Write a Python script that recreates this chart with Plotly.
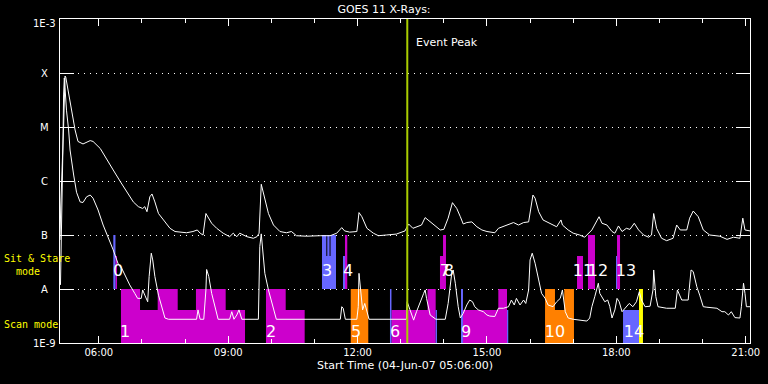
import math
import plotly.graph_objects as go

DAY = "2007-06-04 "

# ---------------- data ----------------
# GOES 11 long channel (upper curve)
long_time = [
    "05:06", "05:07", "05:11", "05:12", "05:13", "05:14", "05:18", "05:22", "05:27", "05:31",
    "05:38", "05:48", "05:52", "06:02", "06:11", "06:20", "06:30", "06:39", "06:48", "06:55",
    "07:01", "07:04", "07:07", "07:11", "07:14", "07:18", "07:23", "07:30", "07:39", "07:46",
    "08:02", "08:11", "08:17", "08:21", "08:25", "08:29", "08:32", "08:37", "08:44", "08:53",
    "09:02", "09:07", "09:12", "09:16", "09:26", "09:35", "09:40", "09:43", "09:46", "09:50",
    "09:56", "10:03", "10:12", "10:21", "10:28", "10:35", "10:49", "11:08", "11:22", "11:31",
    "11:38", "11:42", "11:49", "11:59", "12:02", "12:06", "12:13", "12:22", "12:29", "12:40",
    "12:54", "13:06", "13:11", "13:17", "13:24", "13:29", "13:34", "13:38", "13:45", "13:55",
    "14:00", "14:06", "14:12", "14:18", "14:23", "14:27", "14:32", "14:39", "14:46", "14:53",
    "15:00", "15:11", "15:16", "15:25", "15:37", "15:44", "15:51", "15:58", "16:04", "16:07",
    "16:12", "16:18", "16:28", "16:37", "16:43", "16:45", "16:53", "17:00", "17:09", "17:16",
    "17:26", "17:36", "17:40", "17:47", "17:54", "17:58", "18:03", "18:08", "18:14", "18:19",
    "18:25", "18:31", "18:38", "18:45", "18:49", "18:52", "18:56", "19:03", "19:10", "19:19",
    "19:24", "19:29", "19:38", "19:42", "19:47", "19:54", "20:01", "20:10", "20:24", "20:34",
    "20:43", "20:52", "20:56", "20:59", "21:06",
]
long_flux = [
    8.1e-8, 3.3e-7, 1.0e-5, 4.8e-5, 8.8e-5, 8.4e-5, 4.2e-5, 1.8e-5, 8.8e-6, 5.4e-6,
    4.85e-6, 5.6e-6, 5.4e-6, 4.0e-6, 2.45e-6, 1.6e-6, 9.7e-7, 6.3e-7, 4.1e-7, 3.35e-7,
    3.1e-7, 3.35e-7, 2.7e-7, 5.1e-7, 5.75e-7, 4.1e-7, 2.5e-7, 1.9e-7, 1.33e-7, 1.16e-7,
    1.1e-7, 1.16e-7, 1.24e-7, 1.08e-7, 1.0e-7, 2.5e-7, 2.18e-7, 1.65e-7, 1.33e-7, 1.08e-7,
    9.3e-8, 1.08e-7, 9.3e-8, 1.08e-7, 9.3e-8, 8.7e-8, 9.3e-8, 1.08e-7, 8.7e-7, 5.1e-7,
    2.5e-7, 1.53e-7, 1.16e-7, 1.1e-7, 1.16e-7, 9.7e-8, 9.5e-8, 9.7e-8, 9.7e-8, 1.08e-7,
    1.37e-7, 1.19e-7, 1.13e-7, 1.16e-7, 2.6e-7, 2.18e-7, 1.33e-7, 1.08e-7, 9.7e-8, 1.0e-7,
    1.04e-7, 1.19e-7, 1.6e-7, 1.33e-7, 1.42e-7, 1.53e-7, 2.1e-7, 1.9e-7, 1.53e-7, 1.24e-7,
    1.27e-7, 2.05e-7, 3.97e-7, 3.1e-7, 2.18e-7, 1.6e-7, 1.7e-7, 1.75e-7, 1.42e-7, 1.24e-7,
    1.16e-7, 1.1e-7, 1.33e-7, 1.47e-7, 1.7e-7, 1.53e-7, 1.7e-7, 1.75e-7, 5.5e-7, 4.8e-7,
    2.7e-7, 1.9e-7, 1.65e-7, 1.42e-7, 1.9e-7, 1.53e-7, 1.24e-7, 1.08e-7, 1.0e-7, 9.1e-8,
    1.24e-7, 2.18e-7, 1.65e-7, 1.53e-7, 1.16e-7, 1.08e-7, 1.47e-7, 1.16e-7, 1.33e-7, 1.27e-7,
    1.65e-7, 1.24e-7, 1.0e-7, 9.1e-8, 1.0e-7, 2.5e-7, 1.33e-7, 8.7e-8, 7.85e-8, 8.7e-8,
    1.53e-7, 1.24e-7, 1.24e-7, 2.05e-7, 2.78e-7, 2.18e-7, 1.24e-7, 1.0e-7, 9.5e-8, 8.3e-8,
    9.1e-8, 8.7e-8, 2.05e-7, 1.24e-7, 1.19e-7,
]

# GOES 11 short channel (lower curve)
short_time = [
    "05:06:40", "05:08", "05:09", "05:10", "05:11", "05:12", "05:13", "05:15", "05:18", "05:20",
    "05:25", "05:29", "05:34", "05:38", "05:43", "05:48", "05:52", "05:59", "06:06", "06:13",
    "06:20", "06:25", "06:27", "06:32", "06:36", "06:43", "06:50", "06:54", "06:59", "07:01",
    "07:04", "07:08", "07:10", "07:13", "07:15", "07:18", "07:23", "07:28", "07:32", "07:37",
    "08:16", "08:18", "08:21", "08:26", "08:29", "08:30", "08:33", "08:37", "08:42", "08:46",
    "09:02", "09:05", "09:08", "09:12", "09:15", "09:19", "09:42", "09:44", "09:46", "09:48",
    "09:51", "09:56", "10:03", "10:07", "11:36", "11:38", "11:40", "11:43", "11:59", "12:01",
    "12:02", "12:04", "12:07", "12:10", "12:14", "12:16", "13:08", "13:09", "13:13", "13:18",
    "13:22", "13:27", "13:32", "13:34", "13:36", "13:41", "13:49", "14:02", "14:06", "14:11",
    "14:13", "14:16", "14:20", "14:23", "14:27", "14:32", "14:36", "14:40", "14:43", "14:48",
    "14:55", "15:00", "15:04", "15:11", "15:16", "15:23", "15:30", "15:34", "15:38", "15:41",
    "15:46", "15:51", "15:54", "15:58", "16:00", "16:03", "16:07", "16:12", "16:16", "16:21",
    "16:25", "16:32", "16:37", "16:42", "16:45", "16:49", "16:53", "17:00", "17:12", "17:19",
    "17:23", "17:26", "17:30", "17:35", "17:37", "17:41", "17:44", "17:48", "17:51", "17:54",
    "17:58", "18:01", "18:04", "18:08", "18:12", "18:18", "18:23", "18:28", "18:32", "18:35",
    "18:40", "18:47", "18:51", "18:52", "18:55", "18:58", "19:10", "19:22", "19:25", "19:28",
    "19:31", "19:40", "19:44", "19:47", "19:52", "19:56", "20:01", "20:06", "20:20", "20:27",
    "20:31", "20:36", "20:40", "20:45", "20:52", "20:54", "20:57", "20:59", "21:01", "21:06",
]
short_flux = [
    1.19e-8, 8.1e-8, 4.45e-7, 3.75e-6, 3.92e-5, 8.1e-5, 5.3e-5, 2.05e-5, 8.8e-6, 3.75e-6,
    1.29e-6, 6.2e-7, 4.1e-7, 4.0e-7, 5.1e-7, 5.5e-7, 4.8e-7, 2.9e-7, 1.53e-7, 9.3e-8,
    5.3e-8, 3.45e-8, 2.9e-8, 2.4e-8, 1.82e-8, 1.19e-8, 8.3e-9, 6.7e-9, 6.7e-9, 9.6e-9,
    7.7e-9, 5.8e-9, 1.7e-8, 4.6e-8, 3.45e-8, 1.7e-8, 7.7e-9, 4.7e-9, 2.9e-9, 2.75e-9,
    2.75e-9, 4.1e-9, 2.75e-9, 2.75e-9, 9.6e-9, 2.3e-8, 1.7e-8, 8.3e-9, 4.7e-9, 2.75e-9,
    2.75e-9, 3.8e-9, 2.75e-9, 3.3e-9, 4.1e-9, 2.75e-9, 2.75e-9, 6.1e-8, 1.05e-7, 5.3e-8,
    1.95e-8, 9.6e-9, 4.1e-9, 2.75e-9, 2.75e-9, 4.7e-9, 4.4e-9, 2.75e-9, 2.75e-9, 4.7e-9,
    1.95e-8, 9.6e-9, 4.1e-9, 5.4e-9, 3.55e-9, 2.75e-9, 2.75e-9, 5.8e-9, 4.1e-9, 2.65e-9,
    3.8e-9, 5.4e-9, 8.3e-9, 9.6e-9, 6.7e-9, 3.3e-9, 2.75e-9, 2.75e-9, 5.4e-9, 1.95e-8,
    2.25e-8, 1.28e-8, 4.7e-9, 2.9e-9, 3.55e-9, 5.06e-9, 6.25e-9, 5.8e-9, 4.7e-9, 4.1e-9,
    3.8e-9, 3.3e-9, 3.15e-9, 3.1e-9, 4.4e-9, 4.4e-9, 4.7e-9, 6.25e-9, 5.06e-9, 6.7e-9,
    5.06e-9, 6.25e-9, 5.4e-9, 9.6e-9, 3.45e-8, 4.6e-8, 3.0e-8, 1.47e-8, 8.3e-9, 6.7e-9,
    5.06e-9, 4.7e-9, 5.8e-9, 6.7e-9, 9.6e-9, 3.8e-9, 2.9e-9, 2.75e-9, 2.65e-9, 2.55e-9,
    2.9e-9, 4.7e-9, 7.2e-9, 1.28e-8, 8.3e-9, 6.7e-9, 5.8e-9, 6.25e-9, 4.7e-9, 2.9e-9,
    4.1e-9, 6.7e-9, 5.8e-9, 3.8e-9, 4.4e-9, 5.4e-9, 4.7e-9, 5.8e-9, 8.9e-9, 6.25e-9,
    4.7e-9, 4.8e-9, 9.6e-9, 2.25e-8, 7.2e-9, 4.7e-9, 4.4e-9, 4.4e-9, 9.6e-9, 7.7e-9,
    6.25e-9, 6.25e-9, 2.25e-8, 2.1e-8, 1.1e-8, 7.7e-9, 4.7e-9, 4.6e-9, 4.4e-9, 3.8e-9,
    3.8e-9, 3.3e-9, 3.8e-9, 2.95e-9, 2.9e-9, 4.7e-9, 1.28e-8, 8.3e-9, 4.7e-9, 4.7e-9,
]

# observation blocks (start, end, base level, top level, kind)
bar_start = [
    "06:20:10", "06:23:10", "11:10:30", "11:16:30", "11:17:54", "11:21:00", "11:22:24",
    "11:39:45", "11:42:30", "13:54:40", "13:58:55", "17:05:20", "17:20:35", "17:59:35", "18:01:00",
    "06:30:50", "06:57:20", "07:21:55", "07:49:45", "08:15:10", "08:56:30", "09:52:35", "10:20:00",
    "11:50:30", "12:45:05", "12:47:10", "13:37:20", "13:48:40", "14:23:55", "14:26:40", "15:15:50",
    "15:27:55", "16:20:50", "16:34:40", "16:47:35", "18:09:20", "18:31:35",
]
bar_end = [
    "06:23:10", "06:25:20", "11:16:30", "11:17:54", "11:21:00", "11:22:24", "11:30:00",
    "11:42:30", "11:45:40", "13:58:55", "14:03:00", "17:13:40", "17:30:20", "18:01:00", "18:05:10",
    "06:57:20", "07:21:55", "07:49:45", "08:15:10", "08:56:30", "09:23:25", "10:20:00", "10:46:25",
    "12:14:55", "12:47:10", "13:37:20", "13:48:40", "13:50:30", "14:26:40", "15:15:50", "15:27:55",
    "15:29:40", "16:34:40", "16:47:35", "17:01:05", "18:31:35", "18:37:05",
]
bar_base = [1e-8] * 15 + [1e-9] * 22
bar_top = [
    1e-7, 4.1e-8, 1e-7, 4.1e-8, 1e-7, 4.1e-8, 1e-7,
    4.1e-8, 1e-7, 4.1e-8, 1e-7, 4.1e-8, 1e-7, 4.1e-8, 1e-7,
    1e-8, 4.1e-9, 1e-8, 4.1e-9, 1e-8, 4.1e-9, 1e-8, 4.1e-9,
    1e-8, 1e-8, 4.1e-9, 1e-8, 4.1e-9, 1e-8, 4.1e-9, 1e-8,
    4.1e-9, 1e-8, 4.1e-9, 1e-8, 4.1e-9, 1e-8,
]
bar_kind = [
    "B", "M", "B", "B", "B", "B", "B",
    "B", "M", "M", "M", "M", "M", "B", "M",
    "M", "M", "M", "M", "M", "M", "M", "M",
    "O", "B", "M", "M", "B", "B", "M", "M",
    "B", "O", "O", "O", "B", "Y",
]

# block numbers
label_text = ["0", "1", "2", "3", "4", "5", "6", "7", "8", "9", "10", "11", "12", "13", "14"]
label_time = ["06:26:40", "06:36:25", "09:59:35", "11:17:30", "11:46:40", "11:57:50", "12:52:05",
              "14:01:35", "14:07:10", "14:30:55", "16:34:40", "17:13:40", "17:34:30", "18:13:30",
              "18:24:35"]
label_flux = [2.05e-8, 1.53e-9, 1.53e-9, 2.05e-8, 2.05e-8, 1.53e-9, 1.53e-9,
              2.05e-8, 2.05e-8, 1.53e-9, 1.53e-9, 2.05e-8, 2.05e-8, 2.05e-8, 1.53e-9]

event_peak = "13:09:10"

y_tick_vals = [1e-9, 1e-8, 1e-7, 1e-6, 1e-5, 1e-4, 1e-3]
y_tick_text = ["1E-9", "A", "B", "C", "M", "X", "1E-3"]

x_tick_vals = ["06:00", "09:00", "12:00", "15:00", "18:00", "21:00"]

assert len(long_time) == len(long_flux)
assert len(short_time) == len(short_flux)
n = len(bar_start)
assert n == len(bar_end) == len(bar_base) == len(bar_top) == len(bar_kind)
assert len(label_text) == len(label_time) == len(label_flux)

# ---------------- styles ----------------
COLORS = {"M": "rgb(204,0,204)", "B": "rgb(102,102,255)", "O": "rgb(255,128,0)", "Y": "rgb(255,255,0)"}
FONT = "DejaVu Sans"
MONO = "DejaVu Sans Mono"

fig = go.Figure()

for kind, col in COLORS.items():
    xs, ys = [], []
    for i in range(n):
        if bar_kind[i] != kind:
            continue
        t0, t1 = DAY + bar_start[i], DAY + bar_end[i]
        b, t = bar_base[i], bar_top[i]
        xs += [t0, t0, t1, t1, t0, None]
        ys += [b, t, t, b, b, None]
    fig.add_trace(go.Scatter(x=xs, y=ys, mode="lines", fill="toself", fillcolor=col,
                             line=dict(width=0, color=col), hoverinfo="skip", showlegend=False))

fig.add_trace(go.Scatter(x=[DAY + t for t in long_time], y=long_flux, mode="lines",
                         line=dict(color="white", width=1), showlegend=False))
fig.add_trace(go.Scatter(x=[DAY + t for t in short_time], y=short_flux, mode="lines",
                         line=dict(color="white", width=1), showlegend=False))

fig.add_trace(go.Scatter(x=[DAY + t for t in label_time], y=label_flux, mode="text",
                         text=label_text, textposition="middle center",
                         textfont=dict(color="white", size=16, family=FONT), showlegend=False))

fig.add_shape(type="line", xref="x", yref="paper", x0=DAY + event_peak, x1=DAY + event_peak,
              y0=0, y1=1, line=dict(color="rgb(170,205,0)", width=2))

annotations = [
    dict(text="Event Peak", xref="x", yref="paper", x=DAY + event_peak, y=0.926,
         xanchor="left", yanchor="middle", xshift=7, showarrow=False,
         font=dict(color="white", size=11, family=FONT)),
    dict(text="Sit & Stare", xref="paper", yref="paper", x=-0.0841, y=0.2593,
         xanchor="left", yanchor="middle", showarrow=False,
         font=dict(color="yellow", size=10, family=MONO)),
    dict(text="\u00a0\u00a0mode", xref="paper", yref="paper", x=-0.0841, y=0.2222,
         xanchor="left", yanchor="middle", showarrow=False,
         font=dict(color="yellow", size=10, family=MONO)),
    dict(text="Scan mode", xref="paper", yref="paper", x=-0.0841, y=0.0586,
         xanchor="left", yanchor="middle", showarrow=False,
         font=dict(color="yellow", size=10, family=MONO)),
]
for v, txt in zip(y_tick_vals, y_tick_text):
    annotations.append(dict(text=txt, xref="paper", yref="y", x=-0.0225, y=math.log10(v),
                            xanchor="center", yanchor="middle", showarrow=False,
                            yshift=-4 if v == 1e-3 else 0,
                            font=dict(color="white", size=10, family=FONT)))

fig.update_layout(
    width=768, height=384,
    margin=dict(l=60, r=18, t=19, b=41),
    paper_bgcolor="black", plot_bgcolor="black",
    title=dict(text="GOES 11 X-Rays:", x=0.5, xref="container", y=0.977, yanchor="middle",
               xanchor="center", font=dict(color="white", size=11, family=FONT)),
    annotations=annotations,
    showlegend=False,
)
fig.update_xaxes(
    type="date",
    range=[DAY + "05:06:00", DAY + "21:06:00"],
    tickvals=[DAY + t for t in x_tick_vals],
    ticktext=x_tick_vals,
    ticks="inside", ticklen=7, tickcolor="white", tickwidth=1,
    minor=dict(dtick=3600000, tick0=DAY + "06:00", ticks="inside", ticklen=4,
               tickcolor="white", showgrid=False),
    showgrid=False, zeroline=False,
    showline=True, linecolor="white", linewidth=1, mirror="ticks",
    tickfont=dict(color="white", size=10, family=FONT),
    title=dict(text="Start Time (04-Jun-07 05:06:00)", standoff=4,
               font=dict(color="white", size=11, family=FONT)),
    automargin=False,
)
fig.update_yaxes(
    type="log", range=[-9, -3],
    tickvals=y_tick_vals, showticklabels=False,
    ticks="inside", ticklen=14, tickcolor="white", tickwidth=1,
    showgrid=True, gridcolor="white", gridwidth=1, griddash="1px,5px",
    zeroline=False, showline=True, linecolor="white", linewidth=1, mirror="ticks",
    automargin=False,
)

fig.write_html(
    "out.html",
    config={"displayModeBar": False},
    post_script="document.body.style.margin='0';document.body.style.padding='0';"
                "document.body.style.background='black';",
)
